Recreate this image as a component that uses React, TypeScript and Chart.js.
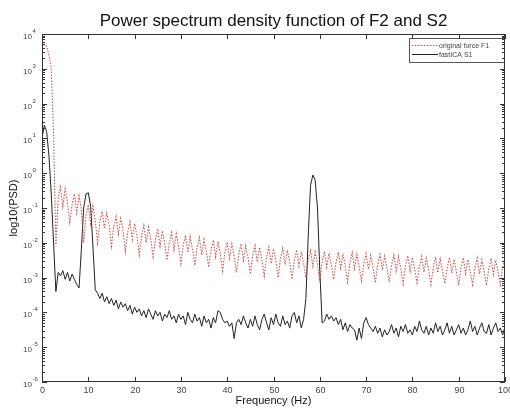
import React, { useEffect, useRef } from 'react';
import { Chart, registerables } from 'chart.js';

Chart.register(...registerables);

const TITLE = 'Power spectrum density function of F2 and S2';
const X_LABEL = 'Frequency (Hz)';
const Y_LABEL = 'log10(PSD)';
const SERIES_NAMES = ['original force F1', 'fastICA S1'];

const X_TICKS = [0, 10, 20, 30, 40, 50, 60, 70, 80, 90, 100];
const Y_TICK_EXPONENTS = [-6, -5, -4, -3, -2, -1, 0, 1, 2, 3, 4];

const FREQ_STEP = 0.5; // Hz between spectrum bins

// log10 of PSD, original force F1 (red dotted), bins 0..100 Hz every 0.5 Hz
const redLog10: number[] = [
  3.6, 3.7, 3.65, 3.4, 3.0, 1.2, -2.1,
  -0.7, -0.4, -0.95, -0.45, -0.85, -1.4,
  -0.9, -0.6, -1.15, -0.65, -1.05, -2.0,
  -1.2, -0.9, -1.45, -0.95, -1.35, -2.0,
  -1.4, -1.1, -1.6, -1.15, -1.5, -2.1,
  -1.55, -1.25, -1.75, -1.3, -1.65, -2.25,
  -1.7, -1.4, -1.9, -1.45, -1.8, -2.35,
  -1.8, -1.5, -2.0, -1.55, -1.9, -2.4,
  -1.9, -1.6, -2.1, -1.65, -2.0, -2.5,
  -2.0, -1.7, -2.2, -1.75, -2.1, -2.6,
  -2.08, -1.78, -2.28, -1.83, -2.18, -2.65,
  -2.15, -1.85, -2.35, -1.9, -2.25, -2.7,
  -2.2, -1.92, -2.4, -1.97, -2.3, -2.8,
  -2.28, -1.98, -2.45, -2.03, -2.38, -2.85,
  -2.33, -2.03, -2.5, -2.08, -2.43, -2.9,
  -2.38, -2.08, -2.55, -2.13, -2.48, -2.95,
  -2.42, -2.12, -2.6, -2.17, -2.52, -3.0,
  -2.46, -2.16, -2.63, -2.21, -2.56, -3.05,
  -2.5, -2.2, -2.66, -2.25, -2.6, -3.0,
  -2.52, -2.22, -2.68, -2.27, -2.62, -3.1,
  -2.55, -2.25, -2.7, -2.3, -2.65, -3.05,
  -2.57, -2.27, -2.72, -2.32, -2.67, -3.12,
  -2.59, -2.29, -2.74, -2.34, -2.69, -3.1,
  -2.61, -2.31, -2.76, -2.36, -2.71, -3.15,
  -2.63, -2.33, -2.78, -2.38, -2.73, -3.12,
  -2.65, -2.35, -2.8, -2.4, -2.75, -3.18,
  -2.67, -2.37, -2.82, -2.42, -2.77, -3.15,
  -2.69, -2.39, -2.84, -2.44, -2.79, -3.2,
  -2.71, -2.41, -2.86, -2.46, -2.81, -3.17,
  -2.72, -2.42, -2.87, -2.47, -2.82, -3.22,
  -2.73, -2.43, -2.88, -2.48, -2.83, -3.2,
  -2.74, -2.44, -2.89, -2.49, -2.84, -3.22,
  -2.75, -2.45, -2.9, -2.5, -2.85, -3.2,
  -2.7, -2.45,
];

// log10 of PSD, fastICA S1 (black solid), bins 0..100 Hz every 0.5 Hz
const blackLog10: number[] = [
  1.0, 1.38, 1.2, 0.5, -0.6, -2.0, -3.4, -2.85, -2.95, -2.8,
  -3.05, -2.85, -3.1, -2.9, -3.05, -3.2, -3.3, -2.2, -1.0, -0.6,
  -0.56, -0.95, -2.1, -3.35, -3.45, -3.6, -3.45, -3.7, -3.55, -3.75,
  -3.6, -3.8, -3.65, -3.9, -3.7, -3.85, -3.75, -3.95, -3.8, -4.05,
  -3.85, -4.0, -3.9, -4.1, -3.95, -4.15, -3.9, -4.05, -4.2, -3.95,
  -4.1, -4.0, -4.25, -4.05, -4.15, -3.95, -4.2, -4.1, -4.3, -4.05,
  -4.2, -4.1, -4.35, -4.0, -4.2, -4.3, -4.05, -4.25, -4.15, -4.4,
  -4.1, -4.3, -4.2, -4.45, -4.15, -4.3, -3.95, -4.0, -4.2, -4.3,
  -4.25, -4.4, -4.3, -4.75, -4.3, -4.2, -4.35, -4.1, -4.3, -4.45,
  -4.2, -4.4, -4.1, -4.35, -4.5, -4.2, -4.05, -4.3, -4.5, -4.15,
  -4.35, -4.05, -4.3, -4.4, -4.1, -4.35, -4.25, -4.45, -4.1, -4.0,
  -4.3, -4.1, -4.45, -4.2, -3.6, -1.8, -0.35, -0.05, -0.2, -1.0,
  -2.8, -4.3, -4.25, -4.05, -4.2, -4.1, -4.25, -4.15, -4.35, -4.2,
  -4.5, -4.3, -4.55, -4.35, -4.45, -4.5, -4.8, -4.45, -4.75, -4.3,
  -4.15, -4.35, -4.45, -4.55, -4.4, -4.6, -4.45, -4.7, -4.5, -4.65,
  -4.55, -4.35, -4.6, -4.45, -4.7, -4.4, -4.55, -4.35, -4.6, -4.5,
  -4.65, -4.4, -4.55, -4.25, -4.5, -4.6, -4.4, -4.65, -4.45, -4.6,
  -4.3, -4.55, -4.4, -4.65, -4.5, -4.3, -4.6, -4.4, -4.65, -4.5,
  -4.35, -4.6, -4.45, -4.65, -4.5, -4.25, -4.55, -4.4, -4.65, -4.45,
  -4.3, -4.55, -4.6, -4.35, -4.65, -4.45, -4.3, -4.55, -4.45, -4.65,
  -4.4,
];

const RED = 'rgba(200, 55, 55, 0.85)';
const BLACK = '#222222';
const FONT = '"Liberation Sans", Arial, sans-serif';

const toPoints = (logs: number[]) =>
  logs.map((v, i) => ({ x: i * FREQ_STEP, y: Math.pow(10, v) }));

const matlabAxes = {
  id: 'matlabAxes',
  afterDraw(chart: any) {
    const { ctx, chartArea: a, scales } = chart;
    const xs = scales.x;
    const ys = scales.y;
    ctx.save();
    ctx.lineWidth = 1;

    // legend box
    const lx = 409, ly = 38, lw = 95, lh = 24;
    ctx.fillStyle = '#fff';
    ctx.fillRect(lx, ly, lw, lh);
    ctx.strokeStyle = '#555';
    ctx.strokeRect(lx + 0.5, ly + 0.5, lw, lh);
    ctx.font = `7px ${FONT}`;
    ctx.textAlign = 'left';
    ctx.textBaseline = 'middle';
    ctx.strokeStyle = RED;
    ctx.setLineDash([1.5, 1.5]);
    ctx.beginPath();
    ctx.moveTo(412, 45.5);
    ctx.lineTo(438, 45.5);
    ctx.stroke();
    ctx.setLineDash([]);
    ctx.strokeStyle = BLACK;
    ctx.beginPath();
    ctx.moveTo(412, 54.5);
    ctx.lineTo(438, 54.5);
    ctx.stroke();
    ctx.fillStyle = '#444';
    ctx.fillText(SERIES_NAMES[0], 439, 46);
    ctx.fillText(SERIES_NAMES[1], 439, 55);

    // frame
    ctx.strokeStyle = '#333';
    ctx.strokeRect(a.left + 0.5, a.top + 0.5, a.right - a.left - 1, a.bottom - a.top - 1);

    // x ticks and labels
    ctx.fillStyle = '#444';
    ctx.font = `9px ${FONT}`;
    ctx.textAlign = 'center';
    ctx.textBaseline = 'top';
    X_TICKS.forEach((t) => {
      const px = Math.round(xs.getPixelForValue(t)) + 0.5;
      ctx.beginPath();
      ctx.moveTo(px, a.bottom);
      ctx.lineTo(px, a.bottom - 5);
      ctx.moveTo(px, a.top);
      ctx.lineTo(px, a.top + 5);
      ctx.stroke();
      ctx.fillText(String(t), px, a.bottom + 4);
    });

    // y ticks (major + minor) and labels
    Y_TICK_EXPONENTS.forEach((e) => {
      const py = Math.round(ys.getPixelForValue(Math.pow(10, e))) + 0.5;
      ctx.beginPath();
      ctx.moveTo(a.left, py);
      ctx.lineTo(a.left + 5, py);
      ctx.moveTo(a.right, py);
      ctx.lineTo(a.right - 5, py);
      ctx.stroke();
      if (e < Y_TICK_EXPONENTS[Y_TICK_EXPONENTS.length - 1]) {
        for (let m = 2; m <= 9; m++) {
          const pm = Math.round(ys.getPixelForValue(m * Math.pow(10, e))) + 0.5;
          ctx.beginPath();
          ctx.moveTo(a.left, pm);
          ctx.lineTo(a.left + 3, pm);
          ctx.moveTo(a.right, pm);
          ctx.lineTo(a.right - 3, pm);
          ctx.stroke();
        }
      }
      ctx.font = `8px ${FONT}`;
      ctx.textAlign = 'right';
      ctx.textBaseline = 'middle';
      ctx.fillText('10', 32, py + 2);
      ctx.font = `6px ${FONT}`;
      ctx.textAlign = 'left';
      ctx.fillText(String(e), 32.5, py - 3);
    });

    // axis titles
    ctx.fillStyle = '#111';
    ctx.font = `11px ${FONT}`;
    ctx.textAlign = 'center';
    ctx.textBaseline = 'middle';
    ctx.fillText(X_LABEL, (a.left + a.right) / 2, 401);
    ctx.save();
    ctx.translate(14, (a.top + a.bottom) / 2);
    ctx.rotate(-Math.PI / 2);
    ctx.fillText(Y_LABEL, 0, 0);
    ctx.restore();

    // title
    ctx.font = `17px ${FONT}`;
    ctx.fillStyle = '#111';
    ctx.fillText(TITLE, (a.left + a.right) / 2, 21);
    ctx.restore();
  },
};

export default function App() {
  const ref = useRef<HTMLCanvasElement | null>(null);
  useEffect(() => {
    document.body.style.margin = '0';
    const canvas = ref.current;
    if (!canvas) return;
    const chart = new Chart(canvas, {
      type: 'line',
      data: {
        datasets: [
          {
            label: SERIES_NAMES[0],
            data: toPoints(redLog10),
            borderColor: RED,
            borderWidth: 1.1,
            borderDash: [1.5, 1.5],
            pointRadius: 0,
            tension: 0,
            fill: false,
          },
          {
            label: SERIES_NAMES[1],
            data: toPoints(blackLog10),
            borderColor: BLACK,
            borderWidth: 1,
            pointRadius: 0,
            tension: 0,
            fill: false,
          },
        ],
      },
      options: {
        animation: false,
        responsive: false,
        devicePixelRatio: 1,
        parsing: false,
        layout: { padding: { left: 42, right: 5, top: 34, bottom: 26 } },
        plugins: {
          legend: { display: false },
          title: { display: false },
          tooltip: { enabled: false },
        },
        scales: {
          x: { type: 'linear', min: 0, max: 100, display: false },
          y: { type: 'logarithmic', min: 1e-6, max: 1e4, display: false },
        },
      },
      plugins: [matlabAxes],
    });
    return () => chart.destroy();
  }, []);
  return (
    <div style={{ position: 'absolute', left: 0, top: 0, width: 510, height: 408, background: '#fff' }}>
      <canvas ref={ref} width={510} height={408} style={{ width: 510, height: 408 }} />
    </div>
  );
}
